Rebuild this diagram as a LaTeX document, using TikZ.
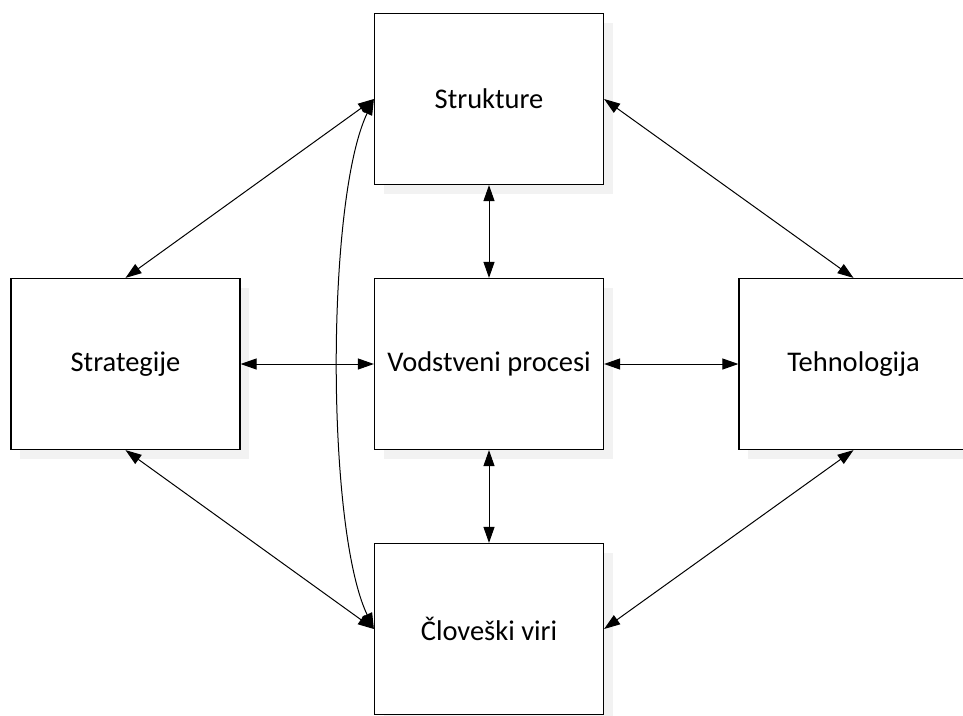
\documentclass[tikz,border=0pt]{standalone}
\usepackage{fontspec}
\setmainfont{Carlito}
\usetikzlibrary{arrows.meta,shadows}
\tikzset{
  blok/.style={draw=black, line width=1.2pt, fill=white, minimum width=229pt,
    minimum height=171pt, inner sep=0pt, font=\fontsize{28.5}{34}\selectfont,
    drop shadow={shadow xshift=9pt, shadow yshift=-9pt, fill=black!5, draw=none, opacity=1}},
  vez/.style={line width=1pt, {Triangle[length=16pt,width=11pt]}-{Triangle[length=16pt,width=11pt]}}
}
\begin{document}
\begin{tikzpicture}[x=1pt,y=-1pt]
  \useasboundingbox (0,0) rectangle (963,715);
  \clip (0,0) rectangle (963,715);
  \fill[white] (0,0) rectangle (963,715);
  % boxes
  \node[blok] (str) at (489,99) {Strukture};
  \node[blok] (strat) at (125.5,364) {Strategije};
  \node[blok] (vod) at (489,364) {Vodstveni procesi};
  \node[blok] (teh) at (853.5,364) {Tehnologija};
  \node[blok] (clo) at (489,629) {Človeški viri};
  % connectors
  \draw[vez] (str.west) -- (strat.north);
  \draw[vez] (str.east) -- (teh.north);
  \draw[vez] (str.south) -- (vod.north);
  \draw[vez] (strat.east) -- (vod.west);
  \draw[vez] (vod.east) -- (teh.west);
  \draw[vez] (vod.south) -- (clo.north);
  \draw[vez] (strat.south) -- (clo.west);
  \draw[vez] (teh.south) -- (clo.east);
  \draw[vez] (str.west) .. controls +(-48,101) and +(-48,-101) .. (clo.west);
\end{tikzpicture}
\end{document}
